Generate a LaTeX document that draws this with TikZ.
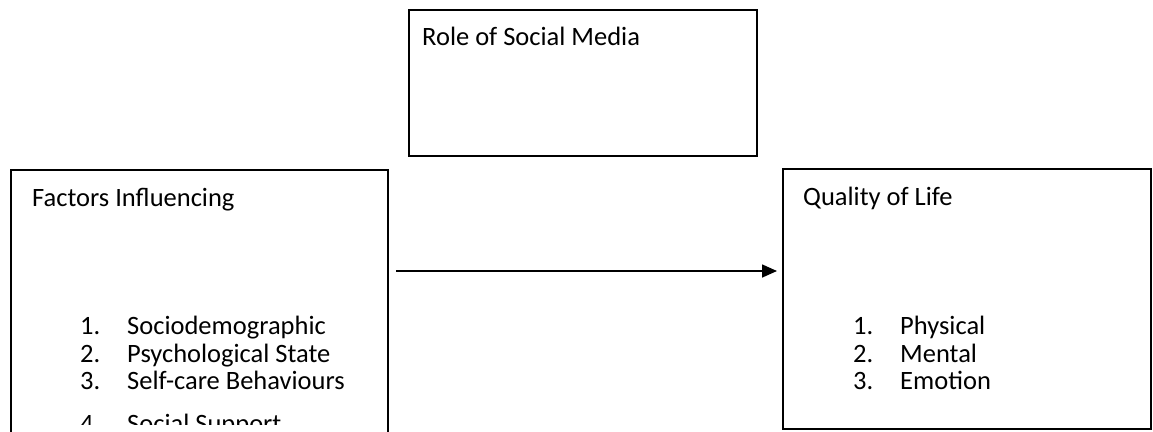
\documentclass[tikz,border=0pt]{standalone}
\usepackage{fontspec}
\setmainfont{Carlito}
\usetikzlibrary{arrows.meta}
\begin{document}
\begin{tikzpicture}[x=1pt,y=-1pt,
  box/.style={draw=black,line width=1.6pt,inner sep=0pt,anchor=north west},
  label/.style={anchor=base west,inner sep=0pt,font=\fontsize{26.5}{30}\selectfont},
  link/.style={line width=1.6pt,-{Triangle[length=15pt,width=13pt]}}]
\useasboundingbox (0,0) rectangle (1153,431);
\clip (0,0) rectangle (1153,431);

% boxes
\node[box,minimum width=348pt,minimum height=146pt] (media) at (408,9) {};
\node[box,minimum width=377pt,minimum height=300pt] (factors) at (10,169) {};
\node[box,minimum width=368pt,minimum height=260pt] (quality) at (782,168) {};

% headings
\node[label] (mediaT) at (422,45) {Role of Social Media};
\node[label] (factorsT) at (32,206) {Factors Influencing};
\node[label] (qualityT) at (803,205) {Quality of Life};

% factor list
\node[label] (f1n) at (80,334) {1.};
\node[label] (f1) at (127,334) {Sociodemographic};
\node[label] (f2n) at (80,362) {2.};
\node[label] (f2) at (127,362) {Psychological State};
\node[label] (f3n) at (80,389) {3.};
\node[label] (f3) at (127,389) {Self-care Behaviours};
\begin{scope}
  \clip (0,0) rectangle (1153,424);
  \node[label] (f4n) at (80,432) {4.};
  \node[label] (f4) at (127,432) {Social Support};
\end{scope}

% quality list
\node[label] (q1n) at (853,334) {1.};
\node[label] (q1) at (900,334) {Physical};
\node[label] (q2n) at (853,362) {2.};
\node[label] (q2) at (900,362) {Mental};
\node[label] (q3n) at (853,389) {3.};
\node[label] (q3) at (900,389) {Emotion};

% connector
\coordinate (linkStart) at (396,271);
\coordinate (linkEnd) at (777,271);
\draw[link] (linkStart) -- (linkEnd);
\end{tikzpicture}
\end{document}
